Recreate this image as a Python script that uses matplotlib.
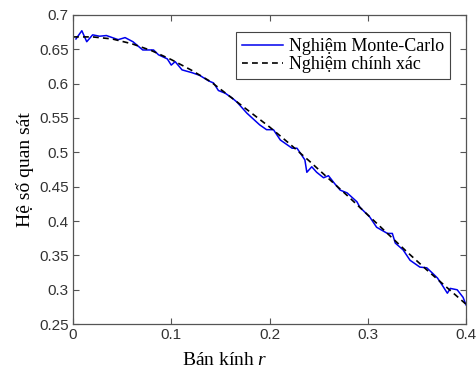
import numpy as np
import matplotlib
matplotlib.use("Agg")
import matplotlib.pyplot as plt

# exact solution
r_exact = [0.0, 0.02, 0.04, 0.06, 0.08, 0.10, 0.12, 0.14, 0.16, 0.18, 0.20,
           0.22, 0.24, 0.26, 0.28, 0.30, 0.32, 0.34, 0.36, 0.38, 0.40]
y_exact = [0.668, 0.668, 0.665, 0.658, 0.648, 0.635, 0.620, 0.603, 0.581, 0.559, 0.537,
           0.513, 0.488, 0.462, 0.436, 0.409, 0.382, 0.355, 0.329, 0.304, 0.279]

# Monte-Carlo solution (noisy)
r_mc = [0.003, 0.009, 0.014, 0.020, 0.027, 0.034, 0.040, 0.046, 0.053, 0.061, 0.071,
        0.082, 0.087, 0.096, 0.100, 0.104, 0.111, 0.121, 0.129, 0.138, 0.143, 0.148,
        0.155, 0.162, 0.167, 0.177, 0.190, 0.197, 0.204, 0.211, 0.223, 0.228, 0.236,
        0.238, 0.243, 0.248, 0.255, 0.260, 0.266, 0.272, 0.279, 0.289, 0.292, 0.302,
        0.309, 0.320, 0.325, 0.328, 0.336, 0.343, 0.346, 0.353, 0.360, 0.366, 0.371,
        0.377, 0.381, 0.384, 0.391, 0.397, 0.400]
y_mc = [0.665, 0.677, 0.661, 0.671, 0.669, 0.670, 0.667, 0.664, 0.667, 0.661, 0.649,
        0.649, 0.642, 0.636, 0.627, 0.632, 0.620, 0.616, 0.612, 0.604, 0.601, 0.590,
        0.586, 0.579, 0.573, 0.557, 0.540, 0.533, 0.533, 0.518, 0.506, 0.506, 0.489,
        0.471, 0.479, 0.471, 0.463, 0.466, 0.455, 0.445, 0.441, 0.428, 0.420, 0.406,
        0.391, 0.382, 0.382, 0.368, 0.358, 0.343, 0.340, 0.333, 0.332, 0.324, 0.317,
        0.304, 0.295, 0.302, 0.300, 0.289, 0.278]

plt.rcParams["mathtext.fontset"] = "custom"
plt.rcParams["mathtext.it"] = "Liberation Serif:italic"
plt.rcParams["mathtext.rm"] = "Liberation Serif"

fig = plt.figure(figsize=(4.77, 3.73), dpi=100)
ax = fig.add_axes([0.153, 0.131, 0.824, 0.829])

ax.plot(r_mc, y_mc, color="#0000ee", lw=1.1, label="Nghiệm Monte-Carlo")
ax.plot(r_exact, y_exact, color="black", ls=(0, (3.5, 2.5)), lw=1.2, label="Nghiệm chính xác")

ax.set_xlim(0, 0.4)
ax.set_ylim(0.25, 0.7)
ax.set_xticks([0, 0.1, 0.2, 0.3, 0.4])
ax.set_xticklabels(["0", "0.1", "0.2", "0.3", "0.4"])
ax.set_yticks(np.arange(0.25, 0.701, 0.05))
ax.set_yticklabels(["0.25", "0.3", "0.35", "0.4", "0.45", "0.5", "0.55", "0.6", "0.65", "0.7"])
ax.tick_params(direction="in", top=True, right=True, length=4, width=0.8,
               color="#555555", labelsize=11, pad=3)
for lab in ax.get_xticklabels() + ax.get_yticklabels():
    lab.set_family("Liberation Sans")
    lab.set_color("#333333")
for s in ax.spines.values():
    s.set_color("#555555")
    s.set_linewidth(0.9)

ax.set_xlabel("Bán kính $r$", family="Liberation Serif", fontsize=14)
ax.xaxis.set_label_coords(0.385, -0.09)
ax.set_ylabel("Hệ số quan sát", family="Liberation Serif", fontsize=14, labelpad=4)

leg = ax.legend(loc="upper right", bbox_to_anchor=(0.96, 0.945), prop={"family": "Liberation Serif", "size": 13},
                fancybox=False, framealpha=1, edgecolor="#444444", handlelength=2.3,
                handletextpad=0.3, borderpad=0.35, labelspacing=0.05, borderaxespad=0)
leg.get_frame().set_linewidth(0.8)

plt.savefig("out.png", dpi=100)
